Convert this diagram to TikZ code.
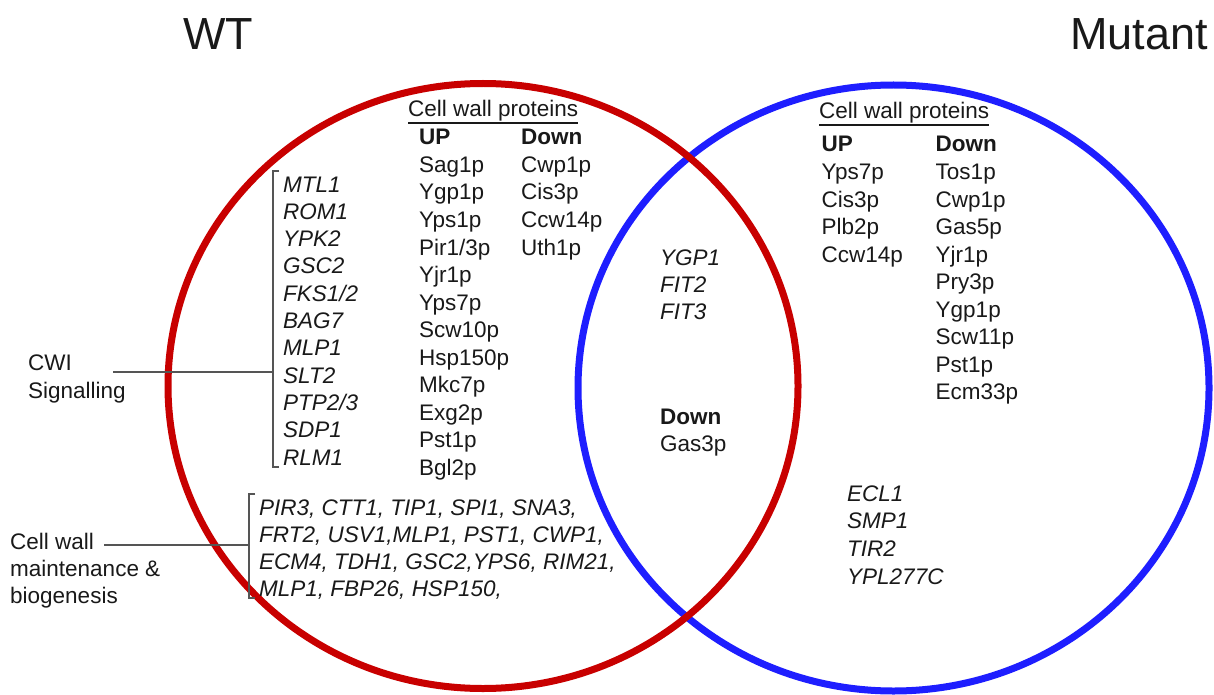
\documentclass[tikz,border=0pt]{standalone}
\usepackage{fontspec}
\setmainfont{Liberation Sans}
\definecolor{wtred}{RGB}{200,0,0}
\definecolor{mutblue}{RGB}{30,30,255}
\definecolor{ink}{RGB}{25,25,25}
\definecolor{leader}{RGB}{85,85,85}
\begin{document}
\begin{tikzpicture}[x=1pt,y=-1pt,
  txt/.style={inner sep=0pt, anchor=base west, text=ink, font=\fontsize{22.5}{27}\selectfont},
  gene/.style={txt, font=\fontsize{22.5}{27}\selectfont\itshape},
  head/.style={txt, font=\fontsize{22.5}{27}\selectfont\bfseries},
  bigtitle/.style={txt, font=\fontsize{45}{50}\selectfont},
  ring/.style={line width=7pt},
  leaderline/.style={draw=leader, line width=1.5pt}]
\useasboundingbox (0,0) rectangle (1214,695);

% the two sets
\draw[ring, mutblue] (893.5,388) ellipse [x radius=315.5, y radius=303];
\draw[ring, wtred] (483,386) ellipse [x radius=315, y radius=302.5];

% titles
\node[bigtitle] (wt) at (183,50) {WT};
\node[bigtitle] (mut) at (1070,50) {Mutant};

% WT cell wall proteins
\node[txt] (cwpL) at (408,117) {Cell wall proteins};
\draw[leaderline, draw=ink, line width=1.2pt] ([yshift=-6pt]cwpL.base west) -- ([yshift=-6pt]cwpL.base east);
\node[head] (upL) at (419,145) {UP};
\node[head] (downL) at (521,145) {Down};
\foreach \t [count=\i] in {Sag1p,Ygp1p,Yps1p,Pir1/3p,Yjr1p,Yps7p,Scw10p,Hsp150p,Mkc7p,Exg2p,Pst1p,Bgl2p}
  \node[txt] (wup\i) at (419,{172.5+27.5*(\i-1)}) {\t};
\foreach \t [count=\i] in {Cwp1p,Cis3p,Ccw14p,Uth1p}
  \node[txt] (wdn\i) at (521,{172.5+27.5*(\i-1)}) {\t};

% CWI signalling genes
\foreach \t [count=\i] in {MTL1,ROM1,YPK2,GSC2,FKS1/2,BAG7,MLP1,SLT2,PTP2/3,SDP1,RLM1}
  \node[gene] (cwi\i) at (283,{192+27.3*(\i-1)}) {\t};
\coordinate (cwiTop) at (273,171);
\coordinate (cwiBot) at (273,467);
\coordinate (cwiMid) at (273,372);
\draw[leaderline] (279,171) -- (cwiTop) -- (cwiBot) -- (279,467);
\node[txt] (cwiA) at (28,370) {CWI};
\node[txt] (cwiB) at (28,398) {Signalling};
\coordinate (cwiLead) at (113,372);
\draw[leaderline] (cwiLead) -- (cwiMid);

% cell wall maintenance genes
\foreach \t [count=\i] in {{PIR3, CTT1, TIP1, SPI1, SNA3,},{FRT2, USV1,MLP1, PST1, CWP1,},{ECM4, TDH1, GSC2,YPS6, RIM21,},{MLP1, FBP26, HSP150,}}
  \node[gene] (cwm\i) at (259,{515+27*(\i-1)}) {\t};
\coordinate (cwmTop) at (249,494);
\coordinate (cwmBot) at (249,598);
\coordinate (cwmMid) at (249,545);
\draw[leaderline] (255,494) -- (cwmTop) -- (cwmBot) -- (255,598);
\node[txt] (cwmA) at (10,549) {Cell wall};
\node[txt] (cwmB) at (10,576) {maintenance \&};
\node[txt] (cwmC) at (10,603) {biogenesis};
\coordinate (cwmLead) at (104,545);
\draw[leaderline] (cwmLead) -- (cwmMid);

% shared
\foreach \t [count=\i] in {YGP1,FIT2,FIT3}
  \node[gene] (sh\i) at (660,{265+27*(\i-1)}) {\t};
\node[head] (shDown) at (660,424) {Down};
\node[txt] (shGas) at (660,451.5) {Gas3p};

% mutant cell wall proteins
\node[txt] (cwpR) at (819,119) {Cell wall proteins};
\draw[leaderline, draw=ink, line width=1.2pt] ([yshift=-6pt]cwpR.base west) -- ([yshift=-6pt]cwpR.base east);
\node[head] (upR) at (821.5,152) {UP};
\node[head] (downR) at (935.5,152) {Down};
\foreach \t [count=\i] in {Yps7p,Cis3p,Plb2p,Ccw14p}
  \node[txt] (mup\i) at (821.5,{179.5+27.5*(\i-1)}) {\t};
\foreach \t [count=\i] in {Tos1p,Cwp1p,Gas5p,Yjr1p,Pry3p,Ygp1p,Scw11p,Pst1p,Ecm33p}
  \node[txt] (mdn\i) at (935.5,{179.5+27.5*(\i-1)}) {\t};

% mutant-only genes
\foreach \t [count=\i] in {ECL1,SMP1,TIR2,YPL277C}
  \node[gene] (mg\i) at (847,{501+27.7*(\i-1)}) {\t};
\end{tikzpicture}
\end{document}
